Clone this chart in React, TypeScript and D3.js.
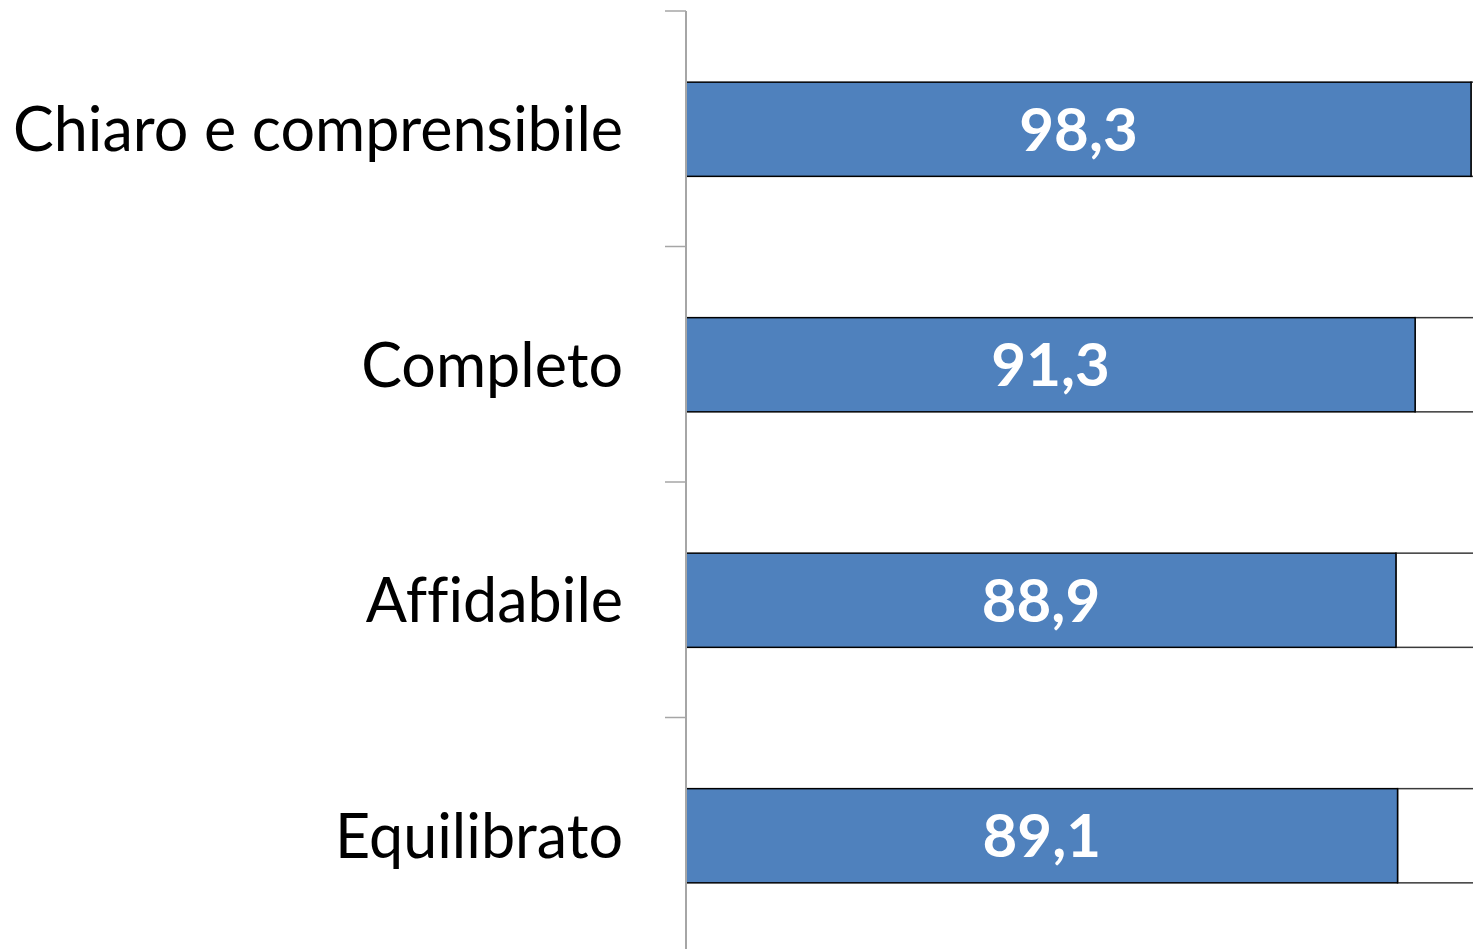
import React from "react";
import * as d3 from "d3";

const categories = ["Chiaro e comprensibile", "Completo", "Affidabile", "Equilibrato"];
const values = [98.3, 91.3, 88.9, 89.1];
const totalValue = 100;

const W = 1473;
const H = 949;

export default function App() {
  const x = d3.scaleLinear().domain([0, totalValue]).range([686, 1484.6]);
  const y = d3.scaleBand<string>().domain(categories).range([11.5, 953.5]).paddingInner(0.6).paddingOuter(0.3);
  const step = y.step();
  const tickYs = d3.range(categories.length + 1).map((i) => 11 + i * step);
  const font = "Lato, 'Open Sans', sans-serif";
  return (
    <svg width={W} height={H} style={{ position: "absolute", left: 0, top: 0, background: "#fff" }}>
      {categories.map((c, i) => {
        const by = y(c)!;
        const bh = y.bandwidth();
        return (
          <g key={c}>
            <rect x={x(values[i])} y={by} width={x(totalValue) - x(values[i])} height={bh} fill="#fff" stroke="#3a3a3a" strokeWidth={1.5} />
            <rect x={x(0)} y={by} width={x(values[i]) - x(0)} height={bh} fill="#4F81BD" stroke="#000" strokeWidth={1.5} />
            <text x={(x(0) + x(values[i])) / 2} y={by + bh / 2} dy="0.36em" textAnchor="middle" fill="#fff" fontWeight="bold" fontSize={60} fontFamily={font} style={{ fontVariantLigatures: "none" }}>
              {values[i].toFixed(1).replace(".", ",")}
            </text>
            <text x={623} y={by + bh / 2} dy="0.36em" textAnchor="end" fill="#000" fontSize={61} fontFamily={font} style={{ fontVariantLigatures: "none" }}>
              {c}
            </text>
          </g>
        );
      })}
      <line x1={686} x2={686} y1={11} y2={H + 5} stroke="#a6a6a6" strokeWidth={2} />
      {tickYs.map((t, i) => (
        <line key={i} x1={665} x2={686} y1={t} y2={t} stroke="#a6a6a6" strokeWidth={1.5} />
      ))}
    </svg>
  );
}
